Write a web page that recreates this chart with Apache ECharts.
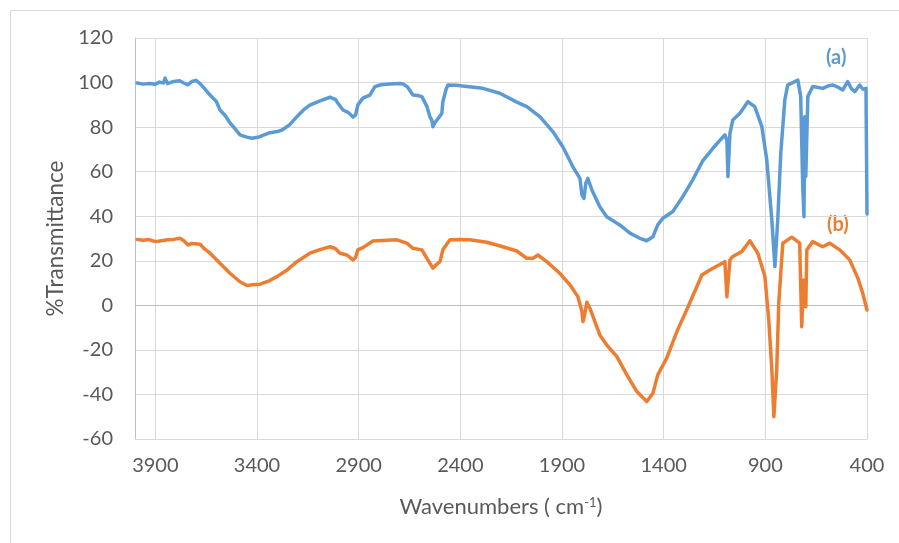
<!DOCTYPE html>
<html>
<head>
<meta charset="utf-8">
<script src="https://cdn.jsdelivr.net/npm/echarts@6/dist/echarts.min.js"></script>
<style>
html,body{margin:0;padding:0;background:#fff;}
#chart{width:899px;height:543px;}
</style>
</head>
<body>
<div id="chart"></div>
<script>
// ---- data ----
const xTicks = [3900, 3400, 2900, 2400, 1900, 1400, 900, 400];
const yTicks = [120, 100, 80, 60, 40, 20, 0, -20, -40, -60];

const waveA = [3990,3960,3930,3900,3880,3860,3852,3840,3810,3780,3760,3740,3720,3700,3680,3660,3631,3600,3582,3555,3533,3510,3484,3450,3425,3390,3336,3300,3277,3240,3204,3170,3140,3090,3041,3015,3002,2977,2950,2928,2915,2904,2879,2845,2820,2790,2746,2700,2682,2660,2633,2610,2589,2564,2550,2540,2535,2525,2515,2500,2491,2486,2470,2461,2420,2368,2289,2206,2122,2073,2009,1945,1896,1847,1812,1802,1792,1783,1773,1753,1714,1680,1616,1566,1517,1483,1453,1429,1404,1355,1306,1257,1207,1158,1099,1089,1084,1074,1060,1025,986,952,917,893,868,853,839,824,804,790,755,740,726,716,710,706,701,691,667,640,618,590,568,540,519,495,475,460,436,420,405,401,400];
const transA = [99.8,99.3,99.6,99.2,100.2,99.8,102,99.5,100.5,100.8,99.8,99.0,100.5,101,99.5,97.5,94.4,91.5,87.7,85,81.9,79.5,76.5,75.5,75,75.6,77.5,78,78.7,81,84.7,87.8,89.9,91.8,93.4,92.5,90.7,87.7,86.5,84.5,85.5,90,93,94.4,98.2,99,99.4,99.6,99.4,98,94.4,94.2,93.7,89.2,84.7,83,80.2,82,83.2,85,86.2,91.4,97,98.9,98.8,98.2,97.4,95.2,91.2,89.2,84.7,78,71.2,62.3,57,49.6,48,54.8,57,51.8,44.3,39.8,36.1,32.4,30.1,29,30.8,36.1,39.1,42.1,48.8,56.3,65,70.5,76.5,74.2,57.8,77.2,83.2,86.2,91.4,89.2,80.2,65.3,38.3,17.4,38.3,68.3,92.3,98.9,100.4,101.1,93.7,53.3,39.8,84.7,57.8,93.7,98.2,97.8,97.4,98.5,98.9,97.8,96.7,100.4,97,95.9,98.9,97,97.4,97.4,41];

const waveB = [3990,3960,3930,3900,3870,3840,3810,3779,3760,3739,3720,3680,3660,3631,3582,3533,3484,3449,3420,3385,3340,3302,3250,3204,3140,3090,3041,3015,2992,2958,2928,2915,2904,2879,2830,2760,2712,2663,2633,2589,2560,2535,2515,2500,2486,2451,2400,2353,2270,2191,2122,2073,2043,2019,1975,1911,1861,1822,1802,1797,1788,1778,1763,1714,1680,1630,1581,1532,1483,1453,1429,1385,1335,1280,1212,1173,1099,1089,1074,1060,1016,976,937,902,883,868,858,844,834,814,770,731,721,711,701,696,667,618,583,534,485,445,421,400];
const transB = [29.6,29.2,29.5,28.6,29,29.4,29.6,30.1,29,27.1,27.8,27.4,25.5,23.4,18.9,14.4,10.6,8.9,9.2,9.5,11,12.9,16,19.6,23.4,25,26.3,25.5,23.4,22.6,20.4,21.5,24.9,25.9,28.9,29.2,29.4,27.9,25.6,24.9,20.4,16.7,18.5,19.6,24.9,29.4,29.6,29.4,28.3,26.3,24.4,21.1,21.1,22.6,19.6,14.4,9.2,3.9,-2.8,-7.3,-4,1.4,-1.3,-13.3,-17.8,-23,-31.2,-38.7,-43.2,-39.5,-31.2,-23.7,-11.8,-0.6,13.6,15.9,19.6,3.9,20.4,21.9,24.1,29,23.4,12.9,-6.6,-29,-50,-29,0.9,27.9,30.6,27.9,-9.6,11.4,-0.6,24.9,28.6,26.3,27.9,24.9,20.4,12.2,5.4,-2.1];

const seriesNames = ['(a)', '(b)'];
const colorA = '#5B9BD5';
const colorB = '#ED7D31';

const pairs = (xs, ys) => xs.map((x, i) => [x, ys[i]]);

const FONT = 'Lato, "Open Sans", sans-serif';
const TXT = '#595959';

const chart = echarts.init(document.getElementById('chart'), null, {renderer: 'canvas'});
chart.setOption({
  animation: false,
  backgroundColor: '#ffffff',
  textStyle: {fontFamily: FONT},
  grid: {left: 135, right: 32, top: 38, bottom: 104, containLabel: false, outerBoundsMode: 'none'},
  xAxis: [{
    type: 'value', inverse: true, min: 400, max: 4000, interval: 500,
    axisLine: {show: true, onZero: false, lineStyle: {color: '#d9d9d9', width: 1}},
    axisTick: {show: false},
    splitLine: {show: true, lineStyle: {color: '#d9d9d9', width: 1}},
    axisLabel: {
      color: TXT, fontSize: 20, fontFamily: FONT, margin: 17,
      showMaxLabel: false, showMinLabel: true,
      formatter: v => (xTicks.indexOf(v) >= 0 ? String(v) : '')
    },
    name: 'Wavenumbers ( cm{sup|-1})',
    nameLocation: 'middle', nameGap: 57,
    nameTextStyle: {
      color: TXT, fontSize: 22, fontFamily: FONT,
      rich: {sup: {fontSize: 13, color: TXT, fontFamily: FONT, verticalAlign: 'top', padding: [0, 0, 8, 0]}}
    }
  }, {
    type: 'value', inverse: true, min: 400, max: 4000, interval: 500, position: 'top',
    axisLine: {show: true, onZero: true, lineStyle: {color: '#bfbfbf', width: 1}},
    axisTick: {show: false}, axisLabel: {show: false}, splitLine: {show: false}
  }],
  yAxis: {
    type: 'value', min: -60, max: 120, interval: 20,
    axisLine: {show: true, onZero: false, lineStyle: {color: '#bfbfbf', width: 1}},
    axisTick: {show: false},
    splitLine: {show: true, lineStyle: {color: '#d9d9d9', width: 1}},
    axisLabel: {color: TXT, fontSize: 20, fontFamily: FONT, margin: 22,
      formatter: v => (yTicks.indexOf(v) >= 0 ? String(v) : '')},
    name: '%Transmittance', nameLocation: 'middle', nameGap: 54, nameRotate: 90,
    nameTextStyle: {color: TXT, fontSize: 22.5, fontFamily: FONT}
  },
  series: [{
    name: seriesNames[0], type: 'line', xAxisIndex: 0, data: pairs(waveA, transA),
    showSymbol: false, symbol: 'none', smooth: false,
    lineStyle: {color: colorA, width: 3.5, cap: 'round', join: 'round'},
    itemStyle: {color: colorA}
  }, {
    name: seriesNames[1], type: 'line', xAxisIndex: 0, data: pairs(waveB, transB),
    showSymbol: false, symbol: 'none', smooth: false,
    lineStyle: {color: colorB, width: 3.5, cap: 'round', join: 'round'},
    itemStyle: {color: colorB}
  }],
  graphic: [{
    type: 'rect', silent: true, z: -10,
    shape: {x: 10.5, y: 10.5, width: 900, height: 560},
    style: {fill: 'none', stroke: '#d9d9d9', lineWidth: 1}
  }, {
    type: 'text', left: 826, top: 48, silent: true,
    style: {text: seriesNames[0], fill: colorA, font: 'bold 20px ' + FONT}
  }, {
    type: 'text', left: 827, top: 215, silent: true,
    style: {text: seriesNames[1], fill: colorB, font: 'bold 20px ' + FONT}
  }]
});
</script>
</body>
</html>
